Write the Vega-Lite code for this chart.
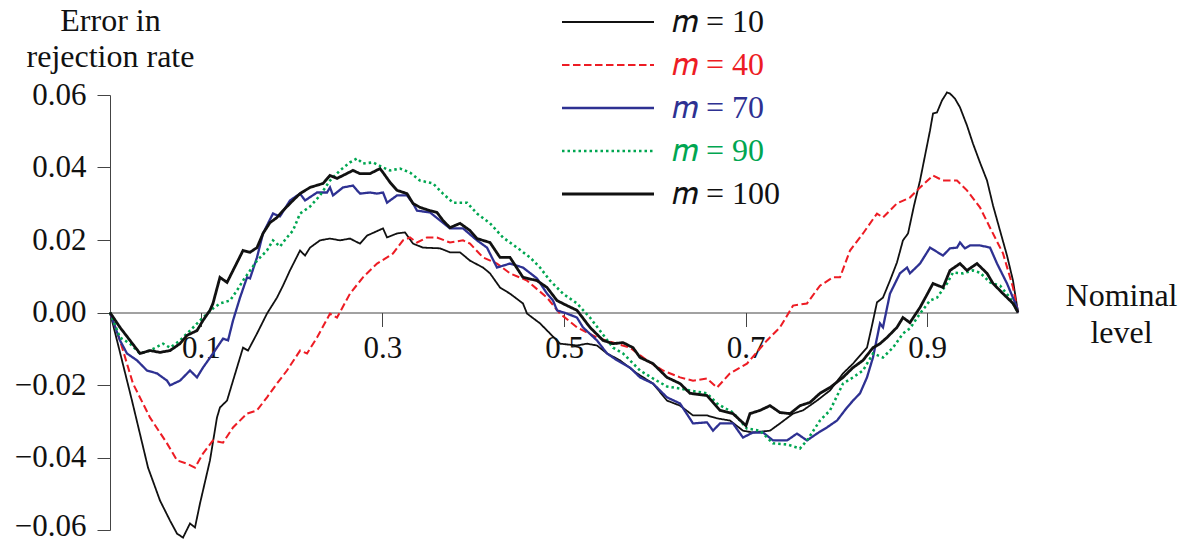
{
"$schema": "https://vega.github.io/schema/vega-lite/v6.json",
"width": 908, "height": 435,
"autosize": {"type": "none"},
"padding": {"left": 110, "top": 95, "right": 176, "bottom": 13},
"background": "white",
"config": {
  "font": "Liberation Serif",
  "view": {"stroke": null},
  "axis": {"grid": false, "domainColor": "#444", "tickColor": "#444", "labelColor": "#111", "titleColor": "#111", "labelFontSize": 31, "titleFontSize": 32, "titleFontWeight": "normal", "labelFont": "Liberation Serif", "titleFont": "Liberation Serif", "domainWidth": 1, "tickWidth": 1},
  "legend": {"labelFont": "Liberation Serif"}
},
"data": {"values": [
{"m":"10","x":0,"y":0},{"m":"10","x":0.011,"y":-0.011},{"m":"10","x":0.0242,"y":-0.0243},{"m":"10","x":0.0419,"y":-0.0428},{"m":"10","x":0.0551,"y":-0.0519},{"m":"10","x":0.0661,"y":-0.0574},{"m":"10","x":0.0738,"y":-0.061},{"m":"10","x":0.0804,"y":-0.0621},{"m":"10","x":0.0881,"y":-0.0582},{"m":"10","x":0.0936,"y":-0.0593},{"m":"10","x":0.0991,"y":-0.0527},{"m":"10","x":0.1101,"y":-0.0408},{"m":"10","x":0.1178,"y":-0.029},{"m":"10","x":0.1211,"y":-0.0262},{"m":"10","x":0.1289,"y":-0.0243},{"m":"10","x":0.1355,"y":-0.0188},{"m":"10","x":0.1465,"y":-0.0097},{"m":"10","x":0.152,"y":-0.0105},{"m":"10","x":0.1619,"y":-0.0058},{"m":"10","x":0.1729,"y":-0.0003},{"m":"10","x":0.1839,"y":0.0041},{"m":"10","x":0.1905,"y":0.0074},{"m":"10","x":0.1982,"y":0.0116},{"m":"10","x":0.2093,"y":0.0171},{"m":"10","x":0.2148,"y":0.0157},{"m":"10","x":0.2203,"y":0.0179},{"m":"10","x":0.2313,"y":0.0199},{"m":"10","x":0.2423,"y":0.0204},{"m":"10","x":0.2533,"y":0.0199},{"m":"10","x":0.2643,"y":0.0204},{"m":"10","x":0.2753,"y":0.019},{"m":"10","x":0.283,"y":0.0212},{"m":"10","x":0.3007,"y":0.0232},{"m":"10","x":0.3051,"y":0.0207},{"m":"10","x":0.3161,"y":0.0218},{"m":"10","x":0.3249,"y":0.0221},{"m":"10","x":0.3337,"y":0.019},{"m":"10","x":0.3447,"y":0.0179},{"m":"10","x":0.3634,"y":0.0177},{"m":"10","x":0.3744,"y":0.0166},{"m":"10","x":0.3855,"y":0.0166},{"m":"10","x":0.3965,"y":0.0143},{"m":"10","x":0.4108,"y":0.0124},{"m":"10","x":0.4185,"y":0.0108},{"m":"10","x":0.4295,"y":0.0069},{"m":"10","x":0.4405,"y":0.0052},{"m":"10","x":0.4548,"y":0.0025},{"m":"10","x":0.4593,"y":-0.0003},{"m":"10","x":0.4736,"y":-0.003},{"m":"10","x":0.4846,"y":-0.0058},{"m":"10","x":0.4956,"y":-0.0086},{"m":"10","x":0.5143,"y":-0.0091},{"m":"10","x":0.5253,"y":-0.0086},{"m":"10","x":0.5363,"y":-0.0091},{"m":"10","x":0.5474,"y":-0.0113},{"m":"10","x":0.5617,"y":-0.0132},{"m":"10","x":0.5804,"y":-0.0168},{"m":"10","x":0.598,"y":-0.0196},{"m":"10","x":0.6134,"y":-0.0243},{"m":"10","x":0.6278,"y":-0.0257},{"m":"10","x":0.6421,"y":-0.0284},{"m":"10","x":0.6575,"y":-0.0284},{"m":"10","x":0.6685,"y":-0.0292},{"m":"10","x":0.6828,"y":-0.0298},{"m":"10","x":0.6971,"y":-0.0326},{"m":"10","x":0.7081,"y":-0.0331},{"m":"10","x":0.7269,"y":-0.0326},{"m":"10","x":0.7379,"y":-0.0306},{"m":"10","x":0.7522,"y":-0.0279},{"m":"10","x":0.7632,"y":-0.027},{"m":"10","x":0.7786,"y":-0.0243},{"m":"10","x":0.793,"y":-0.0215},{"m":"10","x":0.8073,"y":-0.0168},{"m":"10","x":0.8183,"y":-0.0141},{"m":"10","x":0.8337,"y":-0.0097},{"m":"10","x":0.8392,"y":-0.0036},{"m":"10","x":0.8447,"y":0.0028},{"m":"10","x":0.8513,"y":0.0041},{"m":"10","x":0.859,"y":0.0088},{"m":"10","x":0.8667,"y":0.0138},{"m":"10","x":0.8733,"y":0.0199},{"m":"10","x":0.8789,"y":0.0218},{"m":"10","x":0.8855,"y":0.0295},{"m":"10","x":0.8921,"y":0.0364},{"m":"10","x":0.8976,"y":0.0433},{"m":"10","x":0.9031,"y":0.0502},{"m":"10","x":0.9064,"y":0.0549},{"m":"10","x":0.9108,"y":0.0552},{"m":"10","x":0.9163,"y":0.0585},{"m":"10","x":0.9218,"y":0.0607},{"m":"10","x":0.9251,"y":0.0604},{"m":"10","x":0.9306,"y":0.059},{"m":"10","x":0.9361,"y":0.0566},{"m":"10","x":0.9438,"y":0.0516},{"m":"10","x":0.9504,"y":0.0466},{"m":"10","x":0.9581,"y":0.0414},{"m":"10","x":0.9659,"y":0.0364},{"m":"10","x":0.9725,"y":0.0295},{"m":"10","x":0.9802,"y":0.0226},{"m":"10","x":0.9879,"y":0.0157},{"m":"10","x":0.9945,"y":0.0088},{"m":"10","x":1,"y":0},
{"m":"40","x":0,"y":0},{"m":"40","x":0.011,"y":-0.0077},{"m":"40","x":0.0253,"y":-0.0196},{"m":"40","x":0.0441,"y":-0.029},{"m":"40","x":0.0628,"y":-0.0361},{"m":"40","x":0.0738,"y":-0.0408},{"m":"40","x":0.0848,"y":-0.0417},{"m":"40","x":0.0936,"y":-0.0428},{"m":"40","x":0.1024,"y":-0.0389},{"m":"40","x":0.1134,"y":-0.0353},{"m":"40","x":0.1245,"y":-0.0359},{"m":"40","x":0.1355,"y":-0.0317},{"m":"40","x":0.1509,"y":-0.0279},{"m":"40","x":0.1619,"y":-0.027},{"m":"40","x":0.1729,"y":-0.0234},{"m":"40","x":0.1839,"y":-0.0196},{"m":"40","x":0.1949,"y":-0.016},{"m":"40","x":0.2093,"y":-0.0105},{"m":"40","x":0.217,"y":-0.0113},{"m":"40","x":0.228,"y":-0.0069},{"m":"40","x":0.2423,"y":-0.0003},{"m":"40","x":0.25,"y":-0.0014},{"m":"40","x":0.2643,"y":0.0052},{"m":"40","x":0.2786,"y":0.0097},{"m":"40","x":0.2941,"y":0.0135},{"m":"40","x":0.3051,"y":0.0152},{"m":"40","x":0.3117,"y":0.0163},{"m":"40","x":0.3227,"y":0.0199},{"m":"40","x":0.3304,"y":0.0207},{"m":"40","x":0.3381,"y":0.0193},{"m":"40","x":0.3491,"y":0.0207},{"m":"40","x":0.3601,"y":0.0207},{"m":"40","x":0.3744,"y":0.0193},{"m":"40","x":0.3888,"y":0.0199},{"m":"40","x":0.3965,"y":0.019},{"m":"40","x":0.4108,"y":0.0152},{"m":"40","x":0.4262,"y":0.0135},{"m":"40","x":0.4405,"y":0.0108},{"m":"40","x":0.4593,"y":0.0088},{"m":"40","x":0.4813,"y":0.0041},{"m":"40","x":0.4956,"y":-0.0003},{"m":"40","x":0.5143,"y":-0.0041},{"m":"40","x":0.5363,"y":-0.0069},{"m":"40","x":0.554,"y":-0.0083},{"m":"40","x":0.5727,"y":-0.0097},{"m":"40","x":0.5914,"y":-0.0132},{"m":"40","x":0.609,"y":-0.016},{"m":"40","x":0.6278,"y":-0.0179},{"m":"40","x":0.6421,"y":-0.0188},{"m":"40","x":0.6575,"y":-0.0182},{"m":"40","x":0.6685,"y":-0.0207},{"m":"40","x":0.6828,"y":-0.0168},{"m":"40","x":0.7015,"y":-0.0141},{"m":"40","x":0.7236,"y":-0.0077},{"m":"40","x":0.7379,"y":-0.0041},{"m":"40","x":0.7522,"y":0.0019},{"m":"40","x":0.7676,"y":0.0025},{"m":"40","x":0.7819,"y":0.0074},{"m":"40","x":0.7963,"y":0.0097},{"m":"40","x":0.804,"y":0.0097},{"m":"40","x":0.815,"y":0.0171},{"m":"40","x":0.8293,"y":0.0218},{"m":"40","x":0.8447,"y":0.0273},{"m":"40","x":0.8513,"y":0.0262},{"m":"40","x":0.8667,"y":0.0301},{"m":"40","x":0.881,"y":0.0317},{"m":"40","x":0.8921,"y":0.0345},{"m":"40","x":0.9064,"y":0.0378},{"m":"40","x":0.9174,"y":0.0364},{"m":"40","x":0.9328,"y":0.0364},{"m":"40","x":0.9438,"y":0.0337},{"m":"40","x":0.9581,"y":0.029},{"m":"40","x":0.9692,"y":0.0234},{"m":"40","x":0.9835,"y":0.0163},{"m":"40","x":0.9945,"y":0.0069},{"m":"40","x":1,"y":0},
{"m":"70","x":0,"y":0},{"m":"70","x":0.011,"y":-0.0077},{"m":"70","x":0.0187,"y":-0.0113},{"m":"70","x":0.0297,"y":-0.0132},{"m":"70","x":0.0407,"y":-0.016},{"m":"70","x":0.0518,"y":-0.0168},{"m":"70","x":0.0628,"y":-0.0188},{"m":"70","x":0.0661,"y":-0.0201},{"m":"70","x":0.0771,"y":-0.0188},{"m":"70","x":0.0881,"y":-0.016},{"m":"70","x":0.0958,"y":-0.0179},{"m":"70","x":0.1024,"y":-0.0152},{"m":"70","x":0.1134,"y":-0.0113},{"m":"70","x":0.1245,"y":-0.0072},{"m":"70","x":0.13,"y":-0.0077},{"m":"70","x":0.1355,"y":-0.0022},{"m":"70","x":0.1432,"y":0.0041},{"m":"70","x":0.1509,"y":0.0097},{"m":"70","x":0.1542,"y":0.0094},{"m":"70","x":0.1619,"y":0.0152},{"m":"70","x":0.1685,"y":0.0218},{"m":"70","x":0.1795,"y":0.0273},{"m":"70","x":0.1872,"y":0.0265},{"m":"70","x":0.1982,"y":0.0309},{"m":"70","x":0.2093,"y":0.0328},{"m":"70","x":0.2148,"y":0.0309},{"m":"70","x":0.228,"y":0.0331},{"m":"70","x":0.239,"y":0.0331},{"m":"70","x":0.2423,"y":0.0345},{"m":"70","x":0.2456,"y":0.0323},{"m":"70","x":0.2566,"y":0.0345},{"m":"70","x":0.2676,"y":0.035},{"m":"70","x":0.272,"y":0.0337},{"m":"70","x":0.2753,"y":0.0328},{"m":"70","x":0.2863,"y":0.0331},{"m":"70","x":0.2941,"y":0.0328},{"m":"70","x":0.3007,"y":0.0331},{"m":"70","x":0.3051,"y":0.0303},{"m":"70","x":0.3161,"y":0.0323},{"m":"70","x":0.3271,"y":0.0323},{"m":"70","x":0.3337,"y":0.0301},{"m":"70","x":0.3381,"y":0.0281},{"m":"70","x":0.3524,"y":0.0276},{"m":"70","x":0.3634,"y":0.0254},{"m":"70","x":0.3744,"y":0.0232},{"m":"70","x":0.3888,"y":0.0232},{"m":"70","x":0.4042,"y":0.0199},{"m":"70","x":0.4152,"y":0.0179},{"m":"70","x":0.4262,"y":0.0124},{"m":"70","x":0.4405,"y":0.0135},{"m":"70","x":0.4548,"y":0.0124},{"m":"70","x":0.4703,"y":0.0094},{"m":"70","x":0.4813,"y":0.0052},{"m":"70","x":0.4879,"y":0.0033},{"m":"70","x":0.4923,"y":0.0006},{"m":"70","x":0.5033,"y":-0.0003},{"m":"70","x":0.5143,"y":-0.0014},{"m":"70","x":0.5209,"y":-0.0041},{"m":"70","x":0.5363,"y":-0.0077},{"m":"70","x":0.5474,"y":-0.0113},{"m":"70","x":0.5584,"y":-0.0132},{"m":"70","x":0.5727,"y":-0.0152},{"m":"70","x":0.5837,"y":-0.0179},{"m":"70","x":0.598,"y":-0.0196},{"m":"70","x":0.6134,"y":-0.0234},{"m":"70","x":0.6278,"y":-0.0251},{"m":"70","x":0.6421,"y":-0.0306},{"m":"70","x":0.6575,"y":-0.0303},{"m":"70","x":0.6641,"y":-0.0326},{"m":"70","x":0.6718,"y":-0.0306},{"m":"70","x":0.6861,"y":-0.0306},{"m":"70","x":0.6971,"y":-0.0345},{"m":"70","x":0.7081,"y":-0.0331},{"m":"70","x":0.7192,"y":-0.0331},{"m":"70","x":0.7302,"y":-0.0353},{"m":"70","x":0.7456,"y":-0.0353},{"m":"70","x":0.7566,"y":-0.0334},{"m":"70","x":0.7676,"y":-0.0353},{"m":"70","x":0.7786,"y":-0.0334},{"m":"70","x":0.7896,"y":-0.0317},{"m":"70","x":0.8007,"y":-0.0298},{"m":"70","x":0.8117,"y":-0.0262},{"m":"70","x":0.8183,"y":-0.0243},{"m":"70","x":0.826,"y":-0.0223},{"m":"70","x":0.8337,"y":-0.0179},{"m":"70","x":0.8403,"y":-0.0124},{"m":"70","x":0.848,"y":-0.003},{"m":"70","x":0.8513,"y":-0.0041},{"m":"70","x":0.859,"y":0.0052},{"m":"70","x":0.87,"y":0.0108},{"m":"70","x":0.8778,"y":0.0124},{"m":"70","x":0.881,"y":0.0108},{"m":"70","x":0.8921,"y":0.0135},{"m":"70","x":0.9031,"y":0.0179},{"m":"70","x":0.9174,"y":0.0157},{"m":"70","x":0.9251,"y":0.0177},{"m":"70","x":0.9328,"y":0.0179},{"m":"70","x":0.9361,"y":0.0193},{"m":"70","x":0.9416,"y":0.0177},{"m":"70","x":0.9471,"y":0.0185},{"m":"70","x":0.9581,"y":0.0185},{"m":"70","x":0.9692,"y":0.0179},{"m":"70","x":0.9769,"y":0.0135},{"m":"70","x":0.9879,"y":0.008},{"m":"70","x":0.9989,"y":0.0014},{"m":"70","x":1,"y":0},
{"m":"90","x":0,"y":0},{"m":"90","x":0.011,"y":-0.0069},{"m":"90","x":0.022,"y":-0.0086},{"m":"90","x":0.033,"y":-0.0113},{"m":"90","x":0.0441,"y":-0.0105},{"m":"90","x":0.0584,"y":-0.0086},{"m":"90","x":0.0661,"y":-0.0097},{"m":"90","x":0.0771,"y":-0.0077},{"m":"90","x":0.0881,"y":-0.005},{"m":"90","x":0.0991,"y":-0.0022},{"m":"90","x":0.1134,"y":0.0011},{"m":"90","x":0.1211,"y":0.0025},{"m":"90","x":0.1322,"y":0.0033},{"m":"90","x":0.1399,"y":0.0061},{"m":"90","x":0.1465,"y":0.0088},{"m":"90","x":0.1619,"y":0.0143},{"m":"90","x":0.1729,"y":0.0171},{"m":"90","x":0.1795,"y":0.0199},{"m":"90","x":0.1872,"y":0.0182},{"m":"90","x":0.1949,"y":0.0207},{"m":"90","x":0.2015,"y":0.0226},{"m":"90","x":0.2093,"y":0.0273},{"m":"90","x":0.2203,"y":0.0292},{"m":"90","x":0.2313,"y":0.0323},{"m":"90","x":0.2423,"y":0.0364},{"m":"90","x":0.2533,"y":0.0392},{"m":"90","x":0.2643,"y":0.0414},{"m":"90","x":0.272,"y":0.0425},{"m":"90","x":0.2786,"y":0.0411},{"m":"90","x":0.2896,"y":0.0414},{"m":"90","x":0.3007,"y":0.04},{"m":"90","x":0.3084,"y":0.0392},{"m":"90","x":0.3194,"y":0.0397},{"m":"90","x":0.3304,"y":0.0386},{"m":"90","x":0.3414,"y":0.0364},{"m":"90","x":0.3557,"y":0.0356},{"m":"90","x":0.3667,"y":0.0328},{"m":"90","x":0.3778,"y":0.0303},{"m":"90","x":0.3932,"y":0.0303},{"m":"90","x":0.4042,"y":0.0273},{"m":"90","x":0.4185,"y":0.0246},{"m":"90","x":0.4328,"y":0.0207},{"m":"90","x":0.4482,"y":0.0179},{"m":"90","x":0.4626,"y":0.0152},{"m":"90","x":0.4736,"y":0.0124},{"m":"90","x":0.4846,"y":0.0088},{"m":"90","x":0.4989,"y":0.0052},{"m":"90","x":0.5143,"y":0.0025},{"m":"90","x":0.5286,"y":-0.0014},{"m":"90","x":0.5396,"y":-0.005},{"m":"90","x":0.554,"y":-0.0097},{"m":"90","x":0.565,"y":-0.0113},{"m":"90","x":0.5727,"y":-0.0132},{"m":"90","x":0.5837,"y":-0.016},{"m":"90","x":0.598,"y":-0.0182},{"m":"90","x":0.6134,"y":-0.0204},{"m":"90","x":0.6278,"y":-0.021},{"m":"90","x":0.6388,"y":-0.0215},{"m":"90","x":0.6575,"y":-0.0223},{"m":"90","x":0.6685,"y":-0.0251},{"m":"90","x":0.6861,"y":-0.0276},{"m":"90","x":0.7015,"y":-0.032},{"m":"90","x":0.7159,"y":-0.0326},{"m":"90","x":0.7302,"y":-0.0361},{"m":"90","x":0.7456,"y":-0.0364},{"m":"90","x":0.7599,"y":-0.0375},{"m":"90","x":0.7676,"y":-0.0353},{"m":"90","x":0.7819,"y":-0.0298},{"m":"90","x":0.793,"y":-0.027},{"m":"90","x":0.8073,"y":-0.0196},{"m":"90","x":0.8183,"y":-0.0179},{"m":"90","x":0.8293,"y":-0.016},{"m":"90","x":0.8403,"y":-0.0113},{"m":"90","x":0.8513,"y":-0.0124},{"m":"90","x":0.8623,"y":-0.0097},{"m":"90","x":0.8733,"y":-0.0058},{"m":"90","x":0.881,"y":-0.0044},{"m":"90","x":0.8921,"y":-0.0003},{"m":"90","x":0.9031,"y":0.0033},{"m":"90","x":0.9108,"y":0.0041},{"m":"90","x":0.9218,"y":0.008},{"m":"90","x":0.9284,"y":0.011},{"m":"90","x":0.9394,"y":0.0108},{"m":"90","x":0.9504,"y":0.0116},{"m":"90","x":0.9581,"y":0.011},{"m":"90","x":0.9692,"y":0.0083},{"m":"90","x":0.9802,"y":0.0074},{"m":"90","x":0.9912,"y":0.0041},{"m":"90","x":1,"y":0},
{"m":"100","x":0,"y":0},{"m":"100","x":0.011,"y":-0.0041},{"m":"100","x":0.022,"y":-0.0077},{"m":"100","x":0.033,"y":-0.0113},{"m":"100","x":0.0441,"y":-0.0105},{"m":"100","x":0.0551,"y":-0.011},{"m":"100","x":0.0661,"y":-0.0105},{"m":"100","x":0.0771,"y":-0.0086},{"m":"100","x":0.0848,"y":-0.0063},{"m":"100","x":0.0958,"y":-0.005},{"m":"100","x":0.1024,"y":-0.0022},{"m":"100","x":0.1101,"y":0.0006},{"m":"100","x":0.1134,"y":0.0025},{"m":"100","x":0.1211,"y":0.0097},{"m":"100","x":0.1289,"y":0.0083},{"m":"100","x":0.1355,"y":0.0116},{"m":"100","x":0.1465,"y":0.0171},{"m":"100","x":0.1542,"y":0.0166},{"m":"100","x":0.1619,"y":0.0179},{"m":"100","x":0.1685,"y":0.0218},{"m":"100","x":0.1762,"y":0.0248},{"m":"100","x":0.1839,"y":0.0262},{"m":"100","x":0.1905,"y":0.0281},{"m":"100","x":0.2015,"y":0.0309},{"m":"100","x":0.2093,"y":0.0328},{"m":"100","x":0.2203,"y":0.0345},{"m":"100","x":0.2346,"y":0.0356},{"m":"100","x":0.2423,"y":0.0378},{"m":"100","x":0.25,"y":0.037},{"m":"100","x":0.2566,"y":0.0378},{"m":"100","x":0.2676,"y":0.0392},{"m":"100","x":0.2753,"y":0.0383},{"m":"100","x":0.2863,"y":0.0383},{"m":"100","x":0.2974,"y":0.0397},{"m":"100","x":0.3007,"y":0.0386},{"m":"100","x":0.3084,"y":0.0359},{"m":"100","x":0.3161,"y":0.0337},{"m":"100","x":0.3271,"y":0.0328},{"m":"100","x":0.3337,"y":0.0301},{"m":"100","x":0.3414,"y":0.029},{"m":"100","x":0.3524,"y":0.0281},{"m":"100","x":0.3601,"y":0.0276},{"m":"100","x":0.3667,"y":0.0254},{"m":"100","x":0.3744,"y":0.0234},{"m":"100","x":0.3855,"y":0.0246},{"m":"100","x":0.3965,"y":0.0226},{"m":"100","x":0.4042,"y":0.0204},{"m":"100","x":0.4185,"y":0.0193},{"m":"100","x":0.4295,"y":0.0152},{"m":"100","x":0.4405,"y":0.0152},{"m":"100","x":0.4548,"y":0.0097},{"m":"100","x":0.4703,"y":0.0088},{"m":"100","x":0.4813,"y":0.0069},{"m":"100","x":0.4923,"y":0.0033},{"m":"100","x":0.5033,"y":0.0019},{"m":"100","x":0.5143,"y":0.0006},{"m":"100","x":0.5286,"y":-0.0041},{"m":"100","x":0.543,"y":-0.0077},{"m":"100","x":0.554,"y":-0.0086},{"m":"100","x":0.565,"y":-0.0083},{"m":"100","x":0.576,"y":-0.0097},{"m":"100","x":0.5837,"y":-0.0124},{"m":"100","x":0.598,"y":-0.0141},{"m":"100","x":0.6134,"y":-0.0179},{"m":"100","x":0.6278,"y":-0.0196},{"m":"100","x":0.6388,"y":-0.0223},{"m":"100","x":0.6575,"y":-0.0229},{"m":"100","x":0.6718,"y":-0.027},{"m":"100","x":0.6861,"y":-0.0279},{"m":"100","x":0.7004,"y":-0.0312},{"m":"100","x":0.7048,"y":-0.0279},{"m":"100","x":0.7159,"y":-0.027},{"m":"100","x":0.7269,"y":-0.0257},{"m":"100","x":0.7379,"y":-0.0276},{"m":"100","x":0.7489,"y":-0.0279},{"m":"100","x":0.7599,"y":-0.0257},{"m":"100","x":0.7709,"y":-0.0248},{"m":"100","x":0.7819,"y":-0.0223},{"m":"100","x":0.793,"y":-0.0207},{"m":"100","x":0.8073,"y":-0.0179},{"m":"100","x":0.8183,"y":-0.0152},{"m":"100","x":0.8293,"y":-0.0132},{"m":"100","x":0.8403,"y":-0.0097},{"m":"100","x":0.848,"y":-0.0086},{"m":"100","x":0.8557,"y":-0.0069},{"m":"100","x":0.8667,"y":-0.0041},{"m":"100","x":0.8733,"y":-0.0014},{"m":"100","x":0.881,"y":-0.0028},{"m":"100","x":0.8921,"y":0.0014},{"m":"100","x":0.9064,"y":0.008},{"m":"100","x":0.9174,"y":0.0069},{"m":"100","x":0.9251,"y":0.0116},{"m":"100","x":0.9361,"y":0.0135},{"m":"100","x":0.9438,"y":0.0116},{"m":"100","x":0.9548,"y":0.0135},{"m":"100","x":0.9659,"y":0.0108},{"m":"100","x":0.9725,"y":0.008},{"m":"100","x":0.9835,"y":0.0052},{"m":"100","x":0.9945,"y":0.0025},{"m":"100","x":1,"y":0}
]},
"mark": {"type": "line", "interpolate": "linear"},
"encoding": {
  "x": {"field": "x", "type": "quantitative", "scale": {"domain": [0, 1], "nice": false, "zero": false},
    "axis": {"orient": "bottom", "offset": -217.5, "values": [0.1, 0.3, 0.5, 0.7, 0.9], "format": ".1f", "tickSize": 14, "labelPadding": 7, "labelFlush": false, "labelOverlap": false,
      "title": ["Nominal", "level"], "titleX": 1011, "titleY": -7, "titleAlign": "center", "titleBaseline": "alphabetic", "titleLineHeight": 37, "titleAnchor": null}},
  "y": {"field": "y", "type": "quantitative", "scale": {"domain": [-0.06, 0.06], "nice": false},
    "axis": {"values": [-0.06, -0.04, -0.02, 0, 0.02, 0.04, 0.06], "format": ".2f", "tickSize": 13, "labelPadding": 11, "labelOverlap": false, "labelFlush": false,
      "labelOffset": {"condition": {"test": "datum.value < -0.05", "value": -4}, "value": 0},
      "title": ["Error in", "rejection rate"], "titleAngle": 0, "titleX": 0, "titleY": -65, "titleAlign": "center", "titleBaseline": "alphabetic", "titleLineHeight": 36}},
  "color": {"field": "m", "type": "nominal",
    "scale": {"domain": ["10", "40", "70", "90", "100"], "range": ["#111111", "#ed1c24", "#2e3192", "#00a651", "#111111"]},
    "legend": {"orient": "none", "legendX": 482, "legendY": -89, "title": null, "symbolType": "M-4,0H4", "symbolSize": 529,
      "labelExpr": "'𝑚 = ' + datum.label", "labelFontSize": 32, "labelOffset": 48, "rowPadding": 11, "labelLimit": 300,
      "encode": {"labels": {"update": {"fill": {"scale": "color", "field": "value"}}}}}},
  "strokeDash": {"field": "m", "type": "nominal",
    "scale": {"domain": ["10", "40", "70", "90", "100"], "range": [[1, 0], [7.5, 3.5], [1, 0], [2.5, 3], [1, 0]]}},
  "strokeWidth": {"field": "m", "type": "nominal",
    "scale": {"domain": ["10", "40", "70", "90", "100"], "range": [1.8, 2.8, 2.8, 2.6, 3.8]}}
}
}
